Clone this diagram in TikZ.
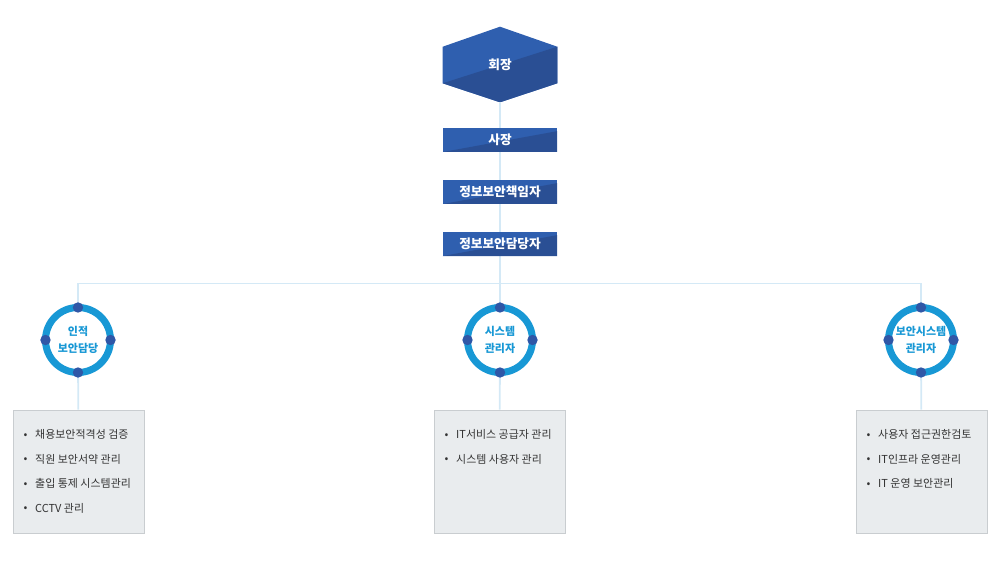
\documentclass[tikz,border=0pt]{standalone}
\usepackage{fontspec}
\setmainfont{Noto Sans CJK KR}
\usetikzlibrary{positioning, calc, backgrounds}
\definecolor{cnavy}{HTML}{2F5FAF}
\definecolor{cnavydark}{HTML}{2A4F94}
\definecolor{cring}{HTML}{1898D5}
\definecolor{cdot}{HTML}{2F57A7}
\definecolor{cline}{HTML}{D4E9F6}
\definecolor{cpanel}{HTML}{E9ECEE}
\definecolor{cpanelline}{HTML}{C9CDD0}
\definecolor{ctext}{HTML}{333333}
\tikzset{
  every picture/.style={x=0.025cm, y=-0.025cm},
  rank/.style={fill=cnavy, text=white, font=\fontsize{9}{10}\selectfont\bfseries,
    minimum width=2.85cm, minimum height=0.6cm, inner sep=0pt,
    path picture={\fill[cnavydark] (path picture bounding box.south west)
      -- ([yshift=-0.08cm]path picture bounding box.north east)
      -- (path picture bounding box.south east) -- cycle;}},
  chairbox/.style={text=white, font=\fontsize{9}{10}\selectfont\bfseries,
    minimum width=2.85cm, minimum height=1.875cm, inner sep=0pt},
  ring/.style={circle, draw=cring, line width=5pt, fill=white, outer sep=0pt,
    minimum size=1.625cm, inner sep=0pt, align=center, text=cring,
    font=\fontsize{7.8}{12}\selectfont\bfseries},
  dot/.style={circle, fill=cdot, minimum size=0.26cm, inner sep=0pt},
  link/.style={draw=cline, line width=1.3pt},
  panel/.style={fill=cpanel, draw=cpanelline, line width=0.5pt,
    minimum width=3.275cm, minimum height=3.075cm, inner sep=0pt},
  duties/.style={align=left, text=ctext, inner sep=0pt,
    font=\fontsize{7.8}{17.4}\selectfont},
}
\newcommand{\duty}[1]{{\fontsize{8}{8}\selectfont\raisebox{0.1ex}{•}}\hspace{0.7em}#1}

\begin{document}
\begin{tikzpicture}
  \useasboundingbox (0,0) rectangle (1000,563);
  % chairman hexagon
  \node[chairbox] (chair) at (500,64.5) {회장};
  \begin{scope}[on background layer]
    \fill[cnavy] (chair.north) -- ([yshift=-0.5cm]chair.north east) -- ([yshift=0.475cm]chair.south east)
      -- (chair.south) -- ([yshift=0.475cm]chair.south west) -- ([yshift=-0.5cm]chair.north west) -- cycle;
    \fill[cnavydark] ([yshift=0.475cm]chair.south west) -- ([yshift=-0.5cm]chair.north east)
      -- ([yshift=0.475cm]chair.south east) -- (chair.south) -- cycle;
  \end{scope}
  % ranks
  \node[rank] (pres) at (500,140) {사장};
  \node[rank] (ciso) at (500,192) {정보보안책임자};
  \node[rank] (sec) at (500,244) {정보보안담당자};
  \coordinate (bus) at (500,283.5);
  % teams
  \node[ring] (hr) at (78,340) {인적\\보안담당};
  \node[ring] (sys) at (500,340) {시스템\\관리자};
  \node[ring] (secsys) at (921,340) {보안시스템\\관리자};
  \foreach \t in {hr, sys, secsys}
    \foreach \a in {north, south, east, west}
      \node[dot] (\t-\a) at (\t.\a) {};
  % duty panels
  \node[panel] (hrbox) at (78.5,471.5) {};
  \node[panel] (sysbox) at (499.5,471.5) {};
  \node[panel] (secbox) at (921.5,471.5) {};
  \node[duties, anchor=north west] (hrlist) at ([xshift=0.27cm, yshift=-0.5cm]hrbox.north west)
    {\duty{채용보안적격성 검증}\\\duty{직원 보안서약 관리}\\\duty{출입 통제 시스템관리}\\\duty{CCTV 관리}};
  \node[duties, anchor=north west] (syslist) at ([xshift=0.27cm, yshift=-0.5cm]sysbox.north west)
    {\duty{IT서비스 공급자 관리}\\\duty{시스템 사용자 관리}};
  \node[duties, anchor=north west] (seclist) at ([xshift=0.27cm, yshift=-0.5cm]secbox.north west)
    {\duty{사용자 접근권한검토}\\\duty{IT인프라 운영관리}\\\duty{IT 운영 보안관리}};
  % connectors
  \begin{scope}[on background layer]
    \draw[link] (chair.south) -- (pres);
    \draw[link] (pres) -- (ciso);
    \draw[link] (ciso) -- (sec);
    \draw[link] (sec) -- (bus);
    \draw[link] (bus) -| (hr);
    \draw[link] (bus) -| (secsys);
    \draw[link] (bus) -- (sys);
    \draw[link] (hr) -- (hrbox);
    \draw[link] (sys) -- (sysbox);
    \draw[link] (secsys) -- (secbox);
  \end{scope}
\end{tikzpicture}
\end{document}
